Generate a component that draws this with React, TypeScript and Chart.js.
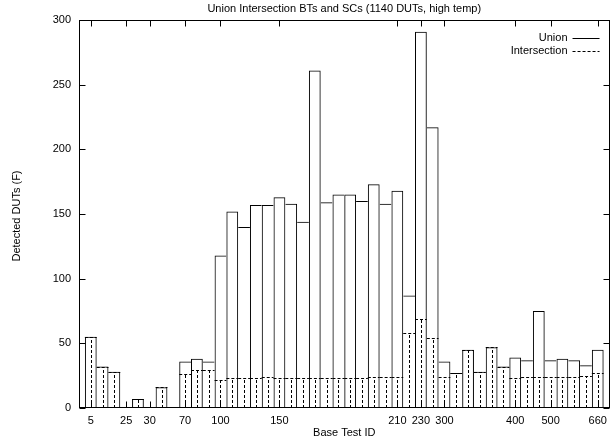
import React, { useEffect, useRef } from 'react';
import { Chart, registerables } from 'chart.js';

Chart.register(...registerables);

const TITLE = 'Union Intersection BTs and SCs (1140 DUTs, high temp)';
const X_TITLE = 'Base Test ID';
const Y_TITLE = 'Detected DUTs (F)';
const SERIES_NAMES = ['Union', 'Intersection'];

// Base Test ID of each bar slot (only the labelled ones are readable)
const categories = [
  '5', '', '', '25', '', '30', '', '', '70', '', '',
  '100', '', '', '', '', '150', '', '', '', '', '',
  '', '', '', '', '210', '', '230', '', '300', '', '',
  '', '', '', '400', '', '', '500', '', '', '', '660',
];

const union = [
  55, 32, 28, 0, 7, 0, 16, 0, 36, 38, 36,
  118, 152, 140, 157, 157, 163, 158, 144, 261, 159, 165,
  165, 160, 173, 158, 168, 87, 291, 217, 36, 27, 45,
  28, 47, 32, 39, 37, 75, 37, 38, 37, 33, 45,
];

const intersection = [
  55, 32, 28, 0, 7, 0, 16, 0, 26, 29, 29,
  22, 23, 23, 23, 24, 23, 23, 23, 23, 23, 23,
  23, 23, 24, 24, 24, 58, 69, 54, 24, 27, 45,
  28, 47, 32, 23, 24, 24, 24, 24, 24, 25, 27,
];

const yTicks = [0, 50, 100, 150, 200, 250, 300];

const FONT = '"Liberation Sans", Arial, Helvetica, sans-serif';

const gnuplotPlugin = {
  id: 'gnuplotLook',
  afterDatasetsDraw(chart: any) {
    const ctx = chart.ctx;
    const meta = chart.getDatasetMeta(1);
    ctx.save();
    ctx.strokeStyle = '#000';
    ctx.lineWidth = 1;
    ctx.setLineDash([3, 2]);
    meta.data.forEach((el: any, i: number) => {
      if (!intersection[i]) return;
      const p = el.getProps(['x', 'y', 'base', 'width'], true);
      const cx = Math.round(p.x) + 0.5;
      const top = Math.round(p.y) + 0.5;
      ctx.beginPath();
      ctx.moveTo(p.x - p.width / 2, top);
      ctx.lineTo(p.x + p.width / 2, top);
      ctx.moveTo(cx, p.base);
      ctx.lineTo(cx, top);
      ctx.stroke();
    });
    ctx.restore();
  },
  afterDraw(chart: any) {
    const ctx = chart.ctx;
    const a = chart.chartArea;
    const xs = chart.scales.x;
    const ys = chart.scales.y;
    const L = Math.round(a.left) + 0.5;
    const R = Math.round(a.right) - 0.5;
    const T = Math.round(a.top) + 0.5;
    const B = Math.round(a.bottom) - 0.5;
    ctx.save();
    ctx.strokeStyle = '#000';
    ctx.lineWidth = 1;
    ctx.setLineDash([]);
    ctx.beginPath();
    // inward ticks, y axis (mirrored)
    ys.ticks.forEach((t: any) => {
      const py = Math.round(ys.getPixelForValue(t.value)) + 0.5;
      ctx.moveTo(L, py); ctx.lineTo(L + 6, py);
      ctx.moveTo(R, py); ctx.lineTo(R - 6, py);
    });
    // inward ticks, x axis (mirrored)
    xs.ticks.forEach((t: any) => {
      const px = Math.round(xs.getPixelForValue(t.value)) + 0.5;
      ctx.moveTo(px, B); ctx.lineTo(px, B - 6);
      ctx.moveTo(px, T); ctx.lineTo(px, T + 6);
    });
    ctx.stroke();
    ctx.strokeRect(L, T, R - L, B - T);

    // titles
    ctx.fillStyle = '#000';
    ctx.font = `11px ${FONT}`;
    ctx.textAlign = 'center';
    ctx.textBaseline = 'middle';
    const midX = (a.left + a.right) / 2;
    ctx.fillText(TITLE, midX, a.top - 11);
    ctx.fillText(X_TITLE, midX, chart.height - 11);
    ctx.save();
    ctx.translate(17, (a.top + a.bottom) / 2 + 2);
    ctx.rotate(-Math.PI / 2);
    ctx.fillText(Y_TITLE, 0, 0);
    ctx.restore();

    // legend
    ctx.textAlign = 'right';
    const lx = a.right - 42;
    SERIES_NAMES.forEach((name, k) => {
      const ly = a.top + 18 + k * 13;
      ctx.fillText(name, lx, ly);
      ctx.beginPath();
      ctx.setLineDash(k === 0 ? [] : [3, 2]);
      ctx.moveTo(lx + 5, Math.round(ly) + 0.5);
      ctx.lineTo(lx + 32, Math.round(ly) + 0.5);
      ctx.stroke();
    });
    ctx.restore();
  },
};

export default function App() {
  const ref = useRef<HTMLCanvasElement | null>(null);

  useEffect(() => {
    document.body.style.margin = '0';
    const canvas = ref.current;
    if (!canvas) return;
    const labelled = categories
      .map((c, i) => (c ? i : -1))
      .filter((i) => i >= 0);

    const chart = new Chart(canvas, {
      type: 'bar',
      data: {
        datasets: [
          {
            label: SERIES_NAMES[0],
            data: union.map((v, i) => ({ x: i, y: v })),
            backgroundColor: 'rgba(0,0,0,0)',
            borderColor: '#000',
            borderSkipped: 'start',
            inflateAmount: 0,
            grouped: false,
            barPercentage: 1,
            categoryPercentage: 1,
            borderWidth: (c: any) => {
              const i = c.dataIndex;
              const v = union[i] ?? 0;
              const p = union[i - 1] ?? 0;
              const n = union[i + 1] ?? 0;
              return { top: 1, left: v >= p ? 1 : 0, right: v > n ? 1 : 0, bottom: 0 };
            },
          } as any,
          {
            label: SERIES_NAMES[1],
            data: intersection.map((v, i) => ({ x: i, y: v })),
            backgroundColor: 'rgba(0,0,0,0)',
            borderWidth: 0,
            inflateAmount: 0,
            grouped: false,
            barPercentage: 1,
            categoryPercentage: 1,
          } as any,
        ],
      },
      options: {
        animation: false,
        responsive: false,
        devicePixelRatio: 1,
        layout: { padding: { left: 0, right: 3, top: 20, bottom: 0 } },
        plugins: {
          legend: { display: false },
          title: { display: false },
          tooltip: { enabled: false },
        },
        scales: {
          x: {
            type: 'linear',
            min: -1,
            max: categories.length,
            offset: false,
            grid: { display: false, drawTicks: false, offset: false },
            border: { display: false },
            afterBuildTicks: (s: any) => {
              s.ticks = labelled.map((i) => ({ value: i }));
            },
            afterFit: (s: any) => {
              s.height = 36;
            },
            ticks: {
              autoSkip: false,
              maxRotation: 0,
              padding: 6,
              color: '#000',
              font: { family: FONT, size: 11 },
              callback: (v: any) => categories[v as number] ?? '',
            },
          } as any,
          y: {
            min: 0,
            max: 300,
            grid: { display: false, drawTicks: false },
            border: { display: false },
            afterBuildTicks: (s: any) => {
              s.ticks = yTicks.map((v) => ({ value: v }));
            },
            afterFit: (s: any) => {
              s.width = 79;
            },
            ticks: {
              padding: 8,
              color: '#000',
              font: { family: FONT, size: 11 },
            },
          } as any,
        },
      },
      plugins: [gnuplotPlugin],
    });
    return () => chart.destroy();
  }, []);

  return (
    <div style={{ width: 613, height: 444 }}>
      <canvas ref={ref} width={613} height={444} style={{ display: 'block' }} />
    </div>
  );
}
